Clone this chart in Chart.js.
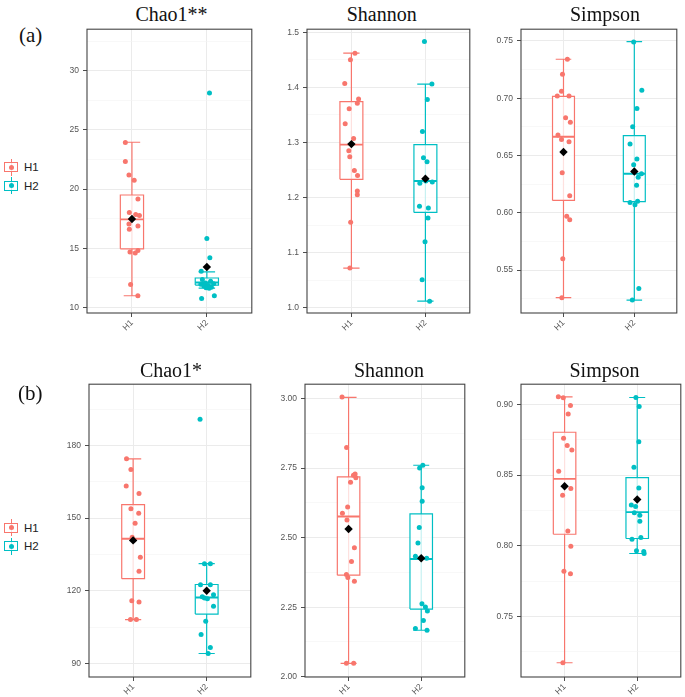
<!DOCTYPE html>
<html><head><meta charset="utf-8">
<script src="https://cdn.jsdelivr.net/npm/chart.js@4.4.1/dist/chart.umd.min.js"></script>
<style>
html,body{margin:0;padding:0;background:#fff;width:685px;height:697px;overflow:hidden;position:relative}
canvas{position:absolute}
.title{position:absolute;font-family:"Liberation Serif","Times New Roman",serif;font-size:20px;line-height:20px;color:#111;text-align:center;white-space:nowrap;width:200px}
.tag{position:absolute;font-family:"Liberation Serif","Times New Roman",serif;font-size:21px;line-height:21px;color:#111}
.legtxt{position:absolute;font-family:"Liberation Sans",Arial,sans-serif;font-size:11.5px;line-height:12px;color:#222}
</style></head><body>
<script>
// ---------- data ----------
const groups = ['H1', 'H2'];
const groupColors = ['#F8766D', '#00BFC4'];

// (a) Chao1**
const aChaoTitle = 'Chao1**';
const aChaoLabels = ['10', '15', '20', '25', '30'];
const aChaoRange = [9.52, 33.52];
const aChaoH1 = [23.93, 22.33, 21.2, 20.74, 19.17, 18.02, 17.86, 17.77, 17.05, 16.88, 16.6, 14.81, 14.67, 14.59, 11.93, 10.98];
const aChaoH1Jit = [-0.088, -0.088, -0.04, 0.03, 0.08, -0.035, 0.05, 0.1, -0.04, 0.08, -0.035, 0.08, -0.026, 0.044, -0.018, 0.079];
const aChaoH2 = [28.12, 15.82, 14.2, 13.05, 12.35, 12.2, 12.05, 12.0, 11.95, 11.85, 11.8, 11.7, 11.65, 11.62, 10.97, 10.75];
const aChaoH2Jit = [0.035, 0.0, 0.04, -0.075, -0.06, 0.05, -0.02, 0.09, -0.08, 0.02, -0.04, 0.06, -0.01, 0.03, 0.1, -0.07];
const aChaoBoxH1 = [10.98, 14.95, 17.44, 19.5, 23.96];
const aChaoBoxH2 = [11.62, 11.88, 12.1, 12.48, 13.0];
const aChaoMeans = [17.47, 13.41];

// (a) Shannon
const aShanTitle = 'Shannon';
const aShanLabels = ['1.0', '1.1', '1.2', '1.3', '1.4', '1.5'];
const aShanRange = [0.9905, 1.5055];
const aShanH1 = [1.462, 1.450, 1.407, 1.379, 1.371, 1.361, 1.334, 1.307, 1.285, 1.274, 1.249, 1.240, 1.212, 1.205, 1.155, 1.072];
const aShanH1Jit = [0.048, -0.013, -0.09, 0.097, 0.08, -0.03, -0.084, 0.03, -0.035, -0.022, 0.04, 0.083, 0.08, 0.08, -0.01, -0.02];
const aShanH2 = [1.483, 1.406, 1.378, 1.320, 1.272, 1.265, 1.230, 1.226, 1.228, 1.184, 1.181, 1.163, 1.120, 1.051, 1.012];
const aShanH2Jit = [-0.013, 0.088, 0.026, -0.04, -0.026, 0.022, 0.005, -0.075, 0.093, -0.08, 0.04, 0.035, -0.005, -0.044, 0.057];
const aShanBoxH1 = [1.072, 1.233, 1.296, 1.374, 1.462];
const aShanBoxH2 = [1.012, 1.173, 1.230, 1.296, 1.406];
const aShanMeans = [1.297, 1.234];

// (a) Simpson
const aSimpTitle = 'Simpson';
const aSimpLabels = ['0.55', '0.60', '0.65', '0.70', '0.75'];
const aSimpRange = [0.5126, 0.7602];
const aSimpH1 = [0.734, 0.721, 0.706, 0.702, 0.702, 0.683, 0.679, 0.668, 0.664, 0.662, 0.635, 0.615, 0.597, 0.594, 0.560, 0.526];
const aSimpH1Jit = [0.055, -0.014, -0.028, -0.088, 0.078, 0.03, 0.097, -0.078, -0.028, 0.078, -0.018, 0.088, 0.046, 0.088, -0.01, -0.023];
const aSimpH2 = [0.749, 0.707, 0.691, 0.675, 0.660, 0.647, 0.642, 0.634, 0.631, 0.624, 0.610, 0.609, 0.607, 0.534, 0.524];
const aSimpH2Jit = [-0.009, 0.106, 0.037, -0.023, -0.06, 0.037, -0.009, 0.101, 0.055, 0.032, 0.046, -0.06, 0.009, 0.064, -0.028];
const aSimpBoxH1 = [0.526, 0.6108, 0.6664, 0.7016, 0.734];
const aSimpBoxH2 = [0.5238, 0.6097, 0.6341, 0.6673, 0.7494];
const aSimpMeans = [0.653, 0.636];

// (b) Chao1*
const bChaoTitle = 'Chao1*';
const bChaoLabels = ['90', '120', '150', '180'];
const bChaoRange = [84.4, 205.3];
const bChaoH1 = [174.5, 170.1, 163.3, 160.2, 153.9, 152.0, 147.9, 142.1, 141.0, 133.8, 128.1, 115.9, 115.4, 108.1, 108.1];
const bChaoH1Jit = [-0.09, -0.03, -0.094, 0.08, -0.03, 0.076, 0.027, -0.013, 0.01, 0.098, 0.08, -0.018, 0.08, -0.036, 0.045];
const bChaoH2 = [190.8, 131.2, 131.2, 122.5, 122.5, 118.4, 117.5, 117.0, 116.7, 113.6, 107.4, 101.9, 96.6, 94.1];
const bChaoH2Jit = [-0.09, -0.03, 0.05, -0.084, 0.05, 0.093, -0.06, -0.03, 0.01, 0.093, -0.013, -0.076, 0.05, 0.02];
const bChaoBoxH1 = [108.1, 125.0, 141.5, 155.6, 174.5];
const bChaoBoxH2 = [94.1, 110.4, 117.2, 122.6, 131.2];
const bChaoMeans = [140.8, 120.0];

// (b) Shannon
const bShanTitle = 'Shannon';
const bShanLabels = ['2.00', '2.25', '2.50', '2.75', '3.00'];
const bShanRange = [1.999, 3.0514];
const bShanH1 = [3.005, 2.824, 2.729, 2.724, 2.715, 2.699, 2.610, 2.588, 2.563, 2.464, 2.414, 2.367, 2.357, 2.343, 2.048, 2.048];
const bShanH1Jit = [-0.09, -0.027, 0.09, 0.067, 0.1, 0.027, -0.013, -0.085, -0.022, 0.08, 0.04, -0.03, -0.01, 0.08, -0.03, 0.07];
const bShanH2 = [2.750, 2.760, 2.679, 2.631, 2.536, 2.481, 2.433, 2.427, 2.426, 2.262, 2.251, 2.236, 2.202, 2.173, 2.167];
const bShanH2Jit = [-0.022, 0.022, 0.013, 0.013, -0.027, -0.045, -0.08, -0.01, 0.075, 0.01, 0.058, 0.085, 0.03, -0.08, 0.08];
const bShanBoxH1 = [2.048, 2.365, 2.576, 2.718, 3.004];
const bShanBoxH2 = [2.167, 2.243, 2.423, 2.585, 2.760];
const bShanMeans = [2.531, 2.426];

// (b) Simpson
const bSimpTitle = 'Simpson';
const bSimpLabels = ['0.75', '0.80', '0.85', '0.90'];
const bSimpRange = [0.7071, 0.9143];
const bSimpH1 = [0.9054, 0.9047, 0.8993, 0.8932, 0.8761, 0.8709, 0.8677, 0.8527, 0.8405, 0.8358, 0.8105, 0.7997, 0.7819, 0.7802, 0.7172];
const bSimpH1Jit = [-0.086, -0.018, 0.081, 0.05, -0.014, 0.036, 0.1, -0.081, 0.086, -0.027, 0.045, 0.086, -0.009, 0.081, -0.023];
const bSimpH2 = [0.9049, 0.8986, 0.8735, 0.8555, 0.8409, 0.8288, 0.8278, 0.8234, 0.8215, 0.8173, 0.8046, 0.8058, 0.7964, 0.7959, 0.7945];
const bSimpH2Jit = [-0.018, 0.027, 0.022, -0.045, 0.022, -0.081, -0.022, -0.04, 0.036, 0.036, -0.072, 0.05, -0.01, 0.09, 0.095];
const bSimpBoxH1 = [0.7172, 0.8081, 0.8473, 0.8803, 0.9054];
const bSimpBoxH2 = [0.7945, 0.8051, 0.8238, 0.8482, 0.9049];
const bSimpMeans = [0.8421, 0.8327];

// ---------- layout ----------
const YW = 30, XH = 22, PAD = 2;
const BOXW = 0.155, CAPW = 0.11;
const TICK_FONT = {family: '"Liberation Sans", Arial, sans-serif', size: 8.5};
const TICK_COLOR = '#555555';

const panels = [
  {title: aChaoTitle, labels: aChaoLabels, range: aChaoRange, vals: [aChaoH1, aChaoH2], jit: [aChaoH1Jit, aChaoH2Jit], box: [aChaoBoxH1, aChaoBoxH2], means: aChaoMeans, l: 87, r: 254, t: 27, b: 313, tx: 171.5, ty: 4},
  {title: aShanTitle, labels: aShanLabels, range: aShanRange, vals: [aShanH1, aShanH2], jit: [aShanH1Jit, aShanH2Jit], box: [aShanBoxH1, aShanBoxH2], means: aShanMeans, l: 307, r: 472, t: 27, b: 313, tx: 381.7, ty: 4},
  {title: aSimpTitle, labels: aSimpLabels, range: aSimpRange, vals: [aSimpH1, aSimpH2], jit: [aSimpH1Jit, aSimpH2Jit], box: [aSimpBoxH1, aSimpBoxH2], means: aSimpMeans, l: 521, r: 679, t: 27, b: 313, tx: 605, ty: 4},
  {title: bChaoTitle, labels: bChaoLabels, range: bChaoRange, vals: [bChaoH1, bChaoH2], jit: [bChaoH1Jit, bChaoH2Jit], box: [bChaoBoxH1, bChaoBoxH2], means: bChaoMeans, l: 89, r: 253, t: 382, b: 677, tx: 171, ty: 360},
  {title: bShanTitle, labels: bShanLabels, range: bShanRange, vals: [bShanH1, bShanH2], jit: [bShanH1Jit, bShanH2Jit], box: [bShanBoxH1, bShanBoxH2], means: bShanMeans, l: 305, r: 467, t: 382, b: 677, tx: 389, ty: 360},
  {title: bSimpTitle, labels: bSimpLabels, range: bSimpRange, vals: [bSimpH1, bSimpH2], jit: [bSimpH1Jit, bSimpH2Jit], box: [bSimpBoxH1, bSimpBoxH2], means: bSimpMeans, l: 521, r: 683, t: 382, b: 677, tx: 604.5, ty: 360}
];

const framePlugin = {
  id: 'frame',
  afterDatasetsDraw(chart) {
    const a = chart.chartArea, ctx = chart.ctx;
    ctx.save();
    ctx.strokeStyle = '#444444';
    ctx.lineWidth = 1.1;
    ctx.strokeRect(a.left, a.top, a.right - a.left, a.bottom - a.top);
    ctx.restore();
  }
};

function makePanel(p) {
  const cv = document.createElement('canvas');
  const W = p.r - p.l + YW + PAD, H = p.b - p.t + PAD + XH;
  cv.width = W; cv.height = H;
  cv.style.width = W + 'px'; cv.style.height = H + 'px';
  cv.style.left = (p.l - YW) + 'px'; cv.style.top = (p.t - PAD) + 'px';
  document.body.appendChild(cv);

  const major = p.labels.map(parseFloat);
  const step = major[1] - major[0];
  const minor = [];
  for (let v = major[0] - step / 2; v <= p.range[1]; v += step) {
    if (v >= p.range[0]) minor.push(v);
  }
  const allTicks = major.concat(minor).sort((a, b) => a - b);
  const majorIdx = v => major.findIndex(m => Math.abs(m - v) < step * 1e-3);

  const ds = [];
  p.vals.forEach((vals, i) => {
    const x = i + 1, c = groupColors[i];
    const [lo, q1, med, q3, hi] = p.box[i];
    ds.push({data: [{x, y: lo}, {x, y: hi}, {x, y: null}, {x: x - CAPW, y: hi}, {x: x + CAPW, y: hi}, {x, y: null}, {x: x - CAPW, y: lo}, {x: x + CAPW, y: lo}],
      showLine: true, spanGaps: false, borderColor: c, borderWidth: 1.2, pointRadius: 0, fill: false, order: 50});
    ds.push({data: [{x: x - BOXW, y: q1}, {x: x + BOXW, y: q1}, {x: x + BOXW, y: q3}, {x: x - BOXW, y: q3}, {x: x - BOXW, y: q1}],
      showLine: true, borderColor: c, borderWidth: 1.2, pointRadius: 0, fill: 'shape', backgroundColor: 'rgba(255,255,255,0.78)', order: 40});
    ds.push({data: [{x: x - BOXW, y: med}, {x: x + BOXW, y: med}],
      showLine: true, borderColor: c, borderWidth: 1.9, pointRadius: 0, fill: false, order: 30});
    ds.push({data: vals.map((v, k) => ({x: x + p.jit[i][k], y: v})),
      showLine: false, pointRadius: 2.5, pointBackgroundColor: c, pointBorderWidth: 0, backgroundColor: c, borderColor: c, order: 20});
    ds.push({data: [{x, y: p.means[i]}],
      showLine: false, pointStyle: 'rectRot', pointRadius: 4.2, pointBackgroundColor: '#000', pointBorderColor: '#000', pointBorderWidth: 0, order: 10});
  });

  new Chart(cv, {
    type: 'scatter',
    data: {datasets: ds},
    plugins: [framePlugin],
    options: {
      responsive: false, animation: false, devicePixelRatio: 1, events: [],
      layout: {padding: {top: PAD, right: PAD, left: 0, bottom: 0}},
      plugins: {legend: {display: false}, tooltip: {enabled: false}, title: {display: false}},
      scales: {
        x: {
          type: 'linear', min: 0.4, max: 2.6,
          afterBuildTicks: s => { s.ticks = groups.map((g, i) => ({value: i + 1})); },
          afterFit: s => { s.height = XH; s.paddingLeft = 0; s.paddingRight = 0; },
          ticks: {autoSkip: false, minRotation: 45, maxRotation: 45, padding: 1, font: TICK_FONT, color: TICK_COLOR,
            callback: v => groups[Math.round(v) - 1]},
          grid: {color: '#EBEBEB', lineWidth: 1, tickLength: 4, tickColor: '#4d4d4d'},
          border: {display: false}
        },
        y: {
          type: 'linear', min: p.range[0], max: p.range[1],
          afterBuildTicks: s => { s.ticks = allTicks.map(v => ({value: v})); },
          afterFit: s => { s.width = YW; s.paddingTop = 0; s.paddingBottom = 0; },
          ticks: {autoSkip: false, padding: 4, font: TICK_FONT, color: TICK_COLOR,
            callback: v => { const k = majorIdx(v); return k >= 0 ? p.labels[k] : ''; }},
          grid: {
            color: ctx => (ctx.tick && majorIdx(ctx.tick.value) >= 0) ? '#EBEBEB' : '#F4F4F4',
            lineWidth: ctx => (ctx.tick && majorIdx(ctx.tick.value) >= 0) ? 1 : 0.6,
            tickLength: 4,
            tickColor: ctx => (ctx.tick && majorIdx(ctx.tick.value) >= 0) ? '#4d4d4d' : 'rgba(0,0,0,0)'
          },
          border: {display: false}
        }
      }
    }
  });

  const t = document.createElement('div');
  t.className = 'title';
  t.textContent = p.title;
  t.style.left = (p.tx - 100) + 'px';
  t.style.top = p.ty + 'px';
  document.body.appendChild(t);
}

function addDiv(css) {
  const d = document.createElement('div');
  d.style.position = 'absolute';
  Object.assign(d.style, css);
  document.body.appendChild(d);
  return d;
}

function makeLegend(centers) {
  centers.forEach((cy, i) => {
    const c = groupColors[i];
    addDiv({left: '10.5px', top: (cy - 8.5) + 'px', width: '1.2px', height: '17px', background: c});
    addDiv({left: '4px', top: (cy - 5) + 'px', width: '12px', height: '8px', border: '1.2px solid ' + c, background: 'rgba(255,255,255,0.78)'});
    addDiv({left: '8.5px', top: (cy - 2.5) + 'px', width: '5px', height: '5px', borderRadius: '50%', background: c});
    const t = addDiv({left: '24px', top: (cy - 6) + 'px'});
    t.className = 'legtxt';
    t.textContent = groups[i];
  });
}

function makeTag(text, left, top) {
  const d = addDiv({left: left + 'px', top: top + 'px'});
  d.className = 'tag';
  d.textContent = text;
}

panels.forEach(makePanel);
makeLegend([167, 185.5]);
makeLegend([527.5, 546]);
makeTag('(a)', 19, 25);
makeTag('(b)', 18, 383);
</script>
</body></html>
